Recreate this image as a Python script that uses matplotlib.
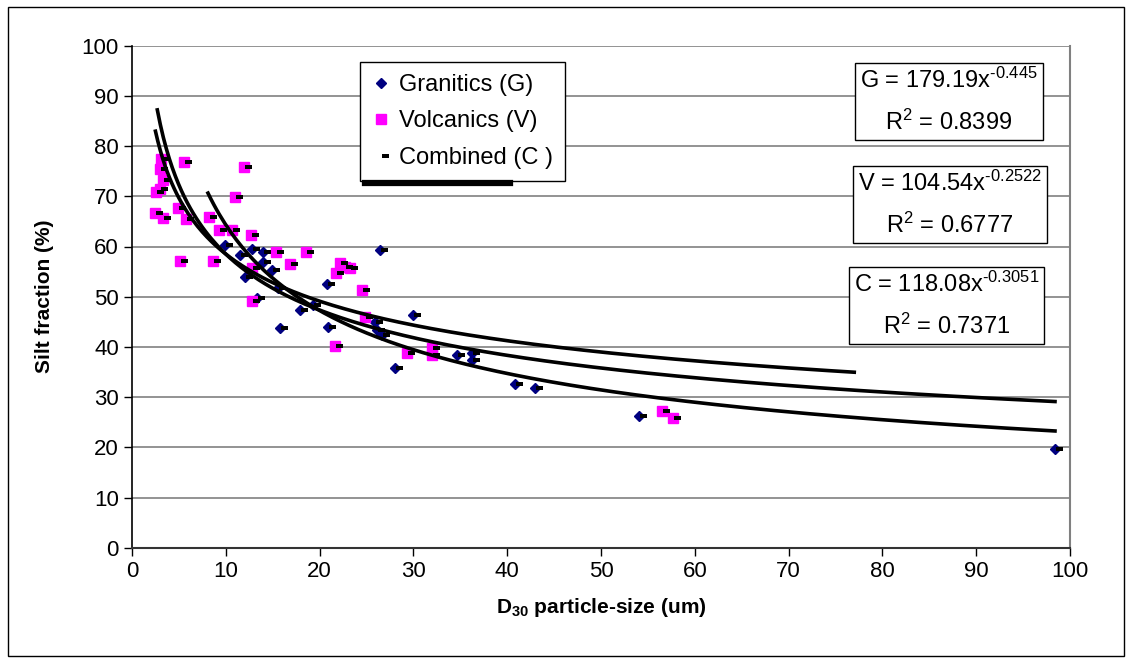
import numpy as np
import matplotlib
matplotlib.use("Agg")
import matplotlib.pyplot as plt
from matplotlib.path import Path
from matplotlib.lines import Line2D
from matplotlib.patches import Rectangle

plt.rcParams['font.family'] = ['Liberation Sans', 'DejaVu Sans']
plt.rcParams['mathtext.fontset'] = 'custom'
plt.rcParams['mathtext.rm'] = 'Liberation Sans'
plt.rcParams['mathtext.it'] = 'Liberation Sans'
plt.rcParams['mathtext.bf'] = 'Liberation Sans:bold'

# --- data ---
gran_x = [9.9, 11.5, 12.8, 14.0, 14.0, 14.9, 12.0, 13.3, 15.6, 15.8, 17.9, 19.3,
          20.8, 20.9, 26.4, 25.9, 26.1, 26.6, 30.0, 28.0, 34.6, 36.2, 36.2,
          40.8, 43.0, 54.1, 98.4]
gran_y = [60.3, 58.3, 59.6, 59.0, 57.0, 55.3, 54.0, 49.7, 51.7, 43.8, 47.4, 48.3,
          52.6, 44.0, 59.3, 45.0, 43.4, 42.4, 46.4, 35.7, 38.4, 38.7, 37.4,
          32.6, 31.9, 26.2, 19.6]

volc_x = [3.06, 2.98, 3.3, 2.98, 2.6, 5.5, 11.9, 11.0, 2.45, 3.3, 4.94, 5.8,
          8.2, 9.3, 10.7, 12.65, 15.4, 16.8, 18.5, 5.1, 8.6, 12.8, 12.8,
          22.2, 22.7, 23.2, 21.8, 24.5, 24.8, 21.6, 29.3, 32.0, 32.0, 56.5, 57.7]
volc_y = [77.4, 75.4, 73.2, 71.4, 70.9, 76.9, 75.8, 69.8, 66.6, 65.7, 67.6, 65.4,
          65.8, 63.3, 63.3, 62.3, 59.0, 56.6, 59.0, 57.2, 57.2, 55.7, 49.2,
          56.7, 56.0, 55.7, 54.7, 51.3, 46.0, 40.2, 38.7, 39.7, 38.4, 27.3, 25.8]

# power trendlines y = a * x^b (coefficients printed on the chart)
trend_names = ['G', 'V', 'C']
trend_a = [179.19, 104.54, 118.08]
trend_b = ['-0.445', '-0.2522', '-0.3051']
trend_r2 = ['0.8399', '0.6777', '0.7371']
trend_xmin = [8.1, 2.5, 2.7]
trend_xmax = [98.4, 77.0, 98.4]

comb_x = gran_x + volc_x
comb_y = gran_y + volc_y

# --- figure ---
fig = plt.figure(figsize=(11.32, 6.64), dpi=100)
ax = fig.add_axes([132 / 1132, 1 - 547.7 / 664, 938 / 1132, 502 / 664])

# Excel-style "dash" marker, sitting just right of the point
dash = Path([(0.1, -0.2), (1.0, -0.2), (1.0, 0.2), (0.1, 0.2), (0.1, -0.2)],
            [Path.MOVETO, Path.LINETO, Path.LINETO, Path.LINETO, Path.CLOSEPOLY])

hg, = ax.plot(gran_x, gran_y, ls='none', marker='D', ms=5.6, mfc='#000080',
              mec='#000080', zorder=3, label='Granitics (G)')
hv, = ax.plot(volc_x, volc_y, ls='none', marker='s', ms=7.2, mfc='#FF00FF',
              mec='#FF00FF', zorder=3, label='Volcanics (V)')
hc, = ax.plot(comb_x, comb_y, ls='none', marker=dash, ms=12, mfc='black',
              mec='black', mew=0, zorder=4, label='Combined (C )')

for a, b, x0, x1 in zip(trend_a, trend_b, trend_xmin, trend_xmax):
    xs = np.linspace(x0, x1, 300)
    ax.plot(xs, a * xs ** float(b), color='black', lw=2.6, zorder=5)

ax.set_xlim(0, 100)
ax.set_ylim(0, 100)
ax.set_xticks(np.arange(0, 101, 10))
ax.set_yticks(np.arange(0, 101, 10))
ax.grid(axis='y', color='#808080', lw=1.2)
ax.set_axisbelow(True)
ax.tick_params(direction='out', length=6, width=1, labelsize=16, colors='black')
ax.spines['top'].set_visible(False)
ax.spines['right'].set_color('#808080')
ax.spines['right'].set_linewidth(1.5)
ax.spines['left'].set_linewidth(1.2)
ax.spines['bottom'].set_linewidth(1.5)
ax.spines['bottom'].set_color('#333333')

ax.set_ylabel('Silt fraction (%)', fontsize=15, fontweight='bold', labelpad=20)
ax.set_xlabel('D$_{\\mathbf{30}}$ particle-size (um)', fontsize=15,
              fontweight='bold', labelpad=10)

leg = ax.legend(handles=[hg, hv, hc], loc='upper left',
                bbox_to_anchor=((360 - 132) / 938, (547.7 - 62) / 502),
                fontsize=17, frameon=True, fancybox=False, framealpha=1,
                edgecolor='black', borderpad=0.5, labelspacing=0.62,
                handlelength=0.8, handletextpad=0.35, borderaxespad=0)
leg.get_frame().set_linewidth(1)

# equation boxes
centers = [(949, 101.5), (950, 204.5), (946.5, 305.5)]
for name, a, b, r2, (px, py) in zip(trend_names, trend_a, trend_b, trend_r2, centers):
    txt = '%s = %gx$^{\\text{%s}}$\nR$^{2}$ = %s' % (name, a, b, r2)
    ax.text((px - 132) / 938, (547.7 - py) / 502, txt, transform=ax.transAxes,
            ha='center', va='center', multialignment='center', fontsize=17,
            linespacing=1.85, zorder=6,
            bbox=dict(boxstyle='square,pad=0.2', fc='white', ec='black', lw=1))

# thick stroke under the legend
fig.add_artist(Line2D([365 / 1132, 510 / 1132], [1 - 183 / 664, 1 - 183 / 664],
                      color='black', lw=4.5, transform=fig.transFigure))
# outer chart border
fig.add_artist(Rectangle((8 / 1132, 8 / 664), 1116 / 1132, 649 / 664, fill=False,
                         ec='black', lw=1, transform=fig.transFigure))

fig.savefig('out.png', dpi=100)
